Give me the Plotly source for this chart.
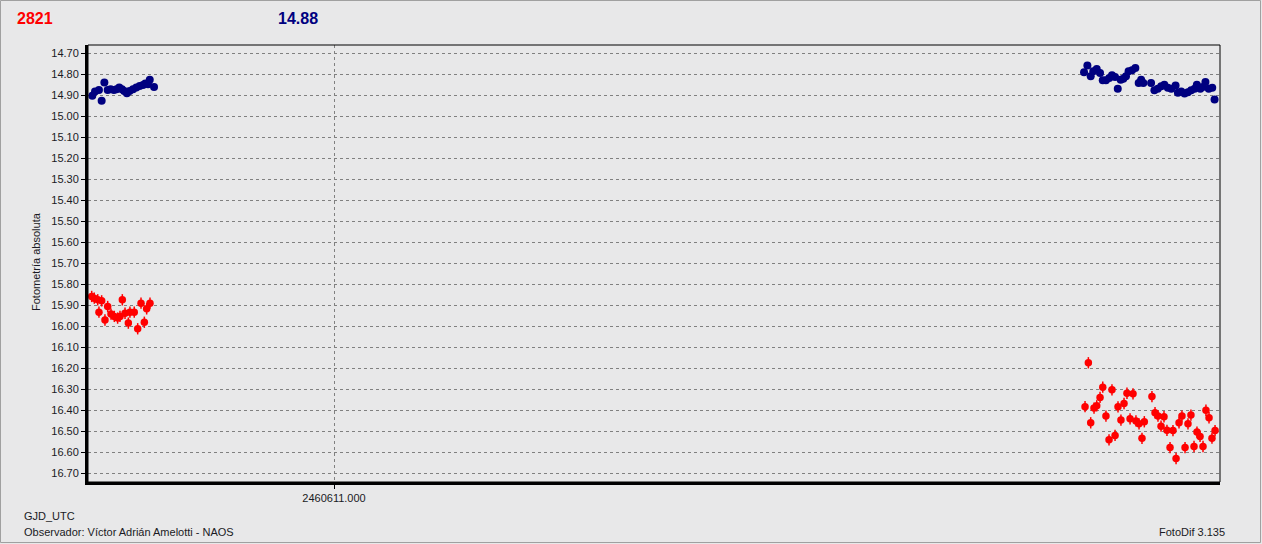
import plotly.graph_objects as go

# ---- data ----
blue_jd = [
    2460609.035, 2460609.057, 2460609.089, 2460609.111, 2460609.133, 2460609.160,
    2460609.184, 2460609.211, 2460609.232, 2460609.254, 2460609.276, 2460609.294,
    2460609.316, 2460609.338, 2460609.366, 2460609.393, 2460609.420, 2460609.447,
    2460609.466, 2460609.488, 2460609.502, 2460609.537,
    2460617.098, 2460617.125, 2460617.152, 2460617.173, 2460617.201, 2460617.228,
    2460617.250, 2460617.276, 2460617.303, 2460617.325, 2460617.350, 2460617.372,
    2460617.396, 2460617.417, 2460617.439, 2460617.460, 2460617.488, 2460617.515,
    2460617.542, 2460617.562, 2460617.580, 2460617.643, 2460617.670, 2460617.697,
    2460617.725, 2460617.751, 2460617.779, 2460617.807, 2460617.842, 2460617.861,
    2460617.888, 2460617.915, 2460617.942, 2460617.969, 2460617.997, 2460618.015,
    2460618.043, 2460618.063, 2460618.085, 2460618.112, 2460618.140, 2460618.159,
]
blue_mag = [
    14.901, 14.881, 14.873, 14.925, 14.838, 14.873,
    14.870, 14.873, 14.870, 14.862, 14.870, 14.878,
    14.889, 14.878, 14.870, 14.862, 14.854, 14.849,
    14.843, 14.846, 14.825, 14.859,
    14.789, 14.757, 14.808, 14.784, 14.773, 14.792,
    14.827, 14.827, 14.816, 14.803, 14.811, 14.867,
    14.824, 14.820, 14.808, 14.784, 14.779, 14.768,
    14.840, 14.824, 14.840, 14.840, 14.875, 14.868,
    14.856, 14.848, 14.863, 14.868, 14.852, 14.887,
    14.880, 14.890, 14.884, 14.875, 14.868, 14.848,
    14.868, 14.859, 14.835, 14.868, 14.863, 14.919,
]

red_jd = [
    2460609.030, 2460609.051, 2460609.079, 2460609.089, 2460609.111, 2460609.138,
    2460609.160, 2460609.187, 2460609.214, 2460609.241, 2460609.260, 2460609.279,
    2460609.301, 2460609.328, 2460609.341, 2460609.376, 2460609.404, 2460609.431,
    2460609.458, 2460609.477, 2460609.504,
    2460617.106, 2460617.133, 2460617.152, 2460617.179, 2460617.201, 2460617.228,
    2460617.250, 2460617.276, 2460617.301, 2460617.325, 2460617.350, 2460617.374,
    2460617.398, 2460617.423, 2460617.447, 2460617.472, 2460617.496, 2460617.520,
    2460617.545, 2460617.569, 2460617.588, 2460617.650, 2460617.675, 2460617.699,
    2460617.724, 2460617.748, 2460617.772, 2460617.797, 2460617.821, 2460617.846,
    2460617.870, 2460617.894, 2460617.919, 2460617.943, 2460617.967, 2460617.992,
    2460618.016, 2460618.041, 2460618.065, 2460618.089, 2460618.114, 2460618.138,
    2460618.163,
]
red_mag = [
    15.857, 15.865, 15.873, 15.932, 15.878, 15.969,
    15.905, 15.941, 15.952, 15.960, 15.952, 15.873,
    15.937, 15.984, 15.932, 15.932, 16.011, 15.889,
    15.980, 15.916, 15.889,
    16.382, 16.173, 16.459, 16.389, 16.378, 16.338,
    16.289, 16.427, 16.540, 16.302, 16.519, 16.383,
    16.446, 16.367, 16.318, 16.440, 16.321, 16.450,
    16.464, 16.533, 16.454, 16.334, 16.411, 16.427,
    16.475, 16.430, 16.495, 16.577, 16.496, 16.629,
    16.459, 16.427, 16.577, 16.464, 16.422, 16.572,
    16.503, 16.524, 16.572, 16.399, 16.435, 16.532,
    16.496,
]
red_err = [0.027] * len(red_mag)

y_ticks = [14.70, 14.80, 14.90, 15.00, 15.10, 15.20, 15.30, 15.40, 15.50, 15.60, 15.70,
           15.80, 15.90, 16.00, 16.10, 16.20, 16.30, 16.40, 16.50, 16.60, 16.70]
x_ticks = [2460611.0]
x_tick_labels = ["2460611.000"]

title_left = "2821"
title_mid = "14.88"
y_title = "Fotometría absoluta"
x_title = "GJD_UTC"
observer = "Observador: Víctor Adrián Amelotti - NAOS"
software = "FotoDif 3.135"

# ---- figure ----
BG = "#e8e8e9"
FONT = "Liberation Sans"
TXT = "#1a1a24"
W, H = 1262, 544
ML, MR, MT, MB = 88, 42, 45, 62
PW, PH = W - ML - MR, H - MT - MB


def px(p):
    return (p - ML) / PW


def py(q):
    return (H - MB - q) / PH


fig = go.Figure()
fig.add_trace(go.Scatter(
    x=blue_jd, y=blue_mag, mode="markers",
    marker=dict(color="#000080", size=8, symbol="circle", line=dict(width=0)),
    hoverinfo="skip", showlegend=False,
))
fig.add_trace(go.Scatter(
    x=red_jd, y=red_mag, mode="markers",
    marker=dict(color="#ff0000", size=7.5, symbol="circle", line=dict(width=0)),
    error_y=dict(type="data", array=red_err, visible=True, color="#ff0000",
                 thickness=1.5, width=0),
    hoverinfo="skip", showlegend=False,
))

fig.update_layout(
    width=W, height=H,
    margin=dict(l=ML, r=MR, t=MT, b=MB, pad=0),
    paper_bgcolor=BG, plot_bgcolor=BG,
    font=dict(family=FONT, size=11, color=TXT),
    xaxis=dict(
        range=[2460609.0, 2460609.0 + (W - MR - ML) / 123.0],
        tickvals=x_ticks, ticktext=x_tick_labels,
        showgrid=True, gridcolor="#808080", griddash="3px,3px", gridwidth=1,
        zeroline=False, showline=True, linecolor="black", linewidth=3,
        ticks="outside", ticklen=4, tickcolor="black", tickwidth=1,
        tickfont=dict(family=FONT, size=11, color=TXT),
    ),
    yaxis=dict(
        range=[16.741, 14.659],
        tickvals=y_ticks, tickformat=".2f",
        showgrid=True, gridcolor="#808080", griddash="3px,3px", gridwidth=1,
        zeroline=False, showline=True, linecolor="black", linewidth=3,
        ticks="outside", ticklen=4, tickcolor="black", tickwidth=1,
        tickfont=dict(family=FONT, size=11, color=TXT),
    ),
    shapes=[
        dict(type="rect", xref="paper", yref="paper", x0=0, x1=1, y0=0, y1=1,
             line=dict(color="black", width=1), layer="above"),
        dict(type="rect", xref="paper", yref="paper",
             x0=px(0.5), x1=px(W - 1.5), y0=py(0.5), y1=py(H - 1.5),
             line=dict(color="#a0a0a0", width=1), layer="below"),
    ],
    annotations=[
        dict(text=f"<b>{title_left}</b>", x=px(35), y=py(19), xref="paper", yref="paper",
             showarrow=False, font=dict(family=FONT, size=16, color="#ff0000"),
             xanchor="center", yanchor="middle"),
        dict(text=f"<b>{title_mid}</b>", x=px(298), y=py(19), xref="paper", yref="paper",
             showarrow=False, font=dict(family=FONT, size=16, color="#000080"),
             xanchor="center", yanchor="middle"),
        dict(text=y_title, x=px(36), y=py(262), xref="paper", yref="paper",
             showarrow=False, textangle=-90, font=dict(family=FONT, size=11, color=TXT),
             xanchor="center", yanchor="middle"),
        dict(text=x_title, x=px(22), y=py(516), xref="paper", yref="paper",
             showarrow=False, font=dict(family=FONT, size=11, color=TXT),
             xanchor="left", yanchor="middle"),
        dict(text=observer, x=px(22), y=py(532), xref="paper", yref="paper",
             showarrow=False, font=dict(family=FONT, size=11, color=TXT),
             xanchor="left", yanchor="middle"),
        dict(text=software, x=px(1227), y=py(532), xref="paper", yref="paper",
             showarrow=False, font=dict(family=FONT, size=11, color=TXT),
             xanchor="right", yanchor="middle"),
    ],
)

fig.write_html(
    "out.html",
    config={"displayModeBar": False},
    post_script="document.body.style.margin='0';document.body.style.overflow='hidden';",
)
